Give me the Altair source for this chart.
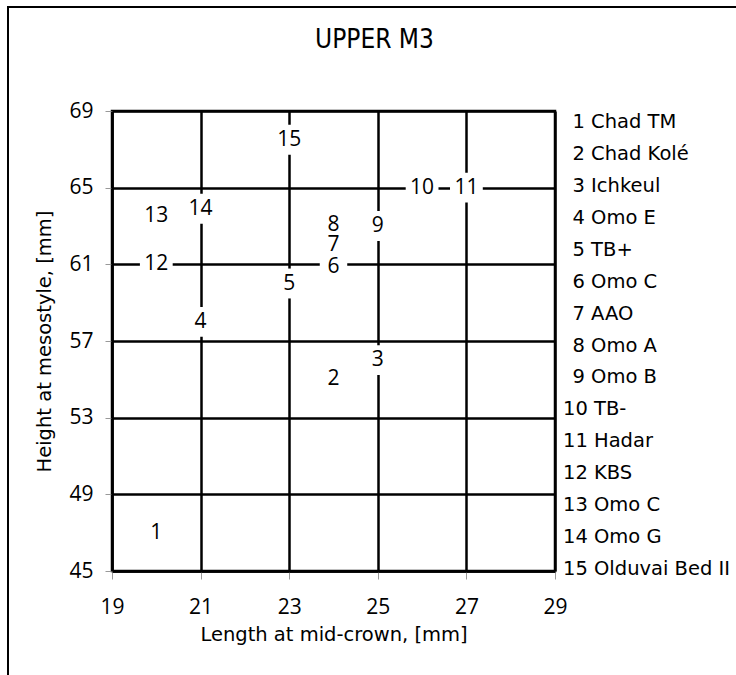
import altair as alt
import pandas as pd

# ---- data ----
site_numbers = list(range(1, 16))
length_mid_crown = [20, 24, 25, 21, 23, 24, 24, 24, 25, 26, 27, 20, 20, 21, 23]
height_mesostyle = [47, 55, 56, 58, 60, 60.85, 62, 63.05, 63, 65, 65, 61, 63.5, 63.9, 67.5]
site_names = ["Chad TM", "Chad Kolé", "Ichkeul", "Omo E", "TB+", "Omo C", "AAO",
              "Omo A", "Omo B", "TB-", "Hadar", "KBS", "Omo C", "Omo G", "Olduvai Bed II"]
x_ticks = [19, 21, 23, 25, 27, 29]
y_ticks = [45, 49, 53, 57, 61, 65, 69]

pts = pd.DataFrame({
    "num": [str(n) for n in site_numbers],
    "length": length_mid_crown,
    "height": height_mesostyle,
})
leg = pd.DataFrame({
    "row": site_numbers,
    "entry": [f"{n} {s}" for n, s in zip(site_numbers, site_names)],
})

W, H = 443, 460
x_scale = alt.Scale(domain=[19, 29], nice=False, zero=False)
y_scale = alt.Scale(domain=[45, 69], nice=False, zero=False)
x_axis = alt.Axis(values=x_ticks, title="Length at mid-crown, [mm]", format="d", labelFlush=False)
y_axis = alt.Axis(values=y_ticks, title="Height at mesostyle, [mm]", format="d", labelFlush=False)

boxes = alt.Chart(pts).transform_calculate(
    hw="length(datum.num) > 1 ? 0.37 : 0.31",
    xa="datum.length - datum.hw",
    xb="datum.length + datum.hw",
    ya="datum.height - 0.78",
    yb="datum.height + 0.78",
).mark_rect(color="white").encode(
    x=alt.X("xa:Q", scale=x_scale, axis=x_axis),
    x2="xb:Q",
    y=alt.Y("ya:Q", scale=y_scale, axis=y_axis),
    y2="yb:Q",
)

labels = alt.Chart(pts).mark_text(
    font="Open Sans", fontSize=21, color="black", align="center", baseline="middle"
).encode(
    x=alt.X("length:Q", scale=x_scale, axis=x_axis),
    y=alt.Y("height:Q", scale=y_scale, axis=y_axis),
    text="num:N",
)

main = alt.layer(boxes, labels)

leg_y = alt.Y("row:Q", scale=alt.Scale(domain=[0.655, 15.06], reverse=True, nice=False, zero=False), axis=None)
leg_single = alt.Chart(leg).transform_filter("datum.row < 10").mark_text(
    align="left", baseline="middle", font="DejaVu Sans", fontSize=19.5, color="black"
).encode(x=alt.value(460.5), y=leg_y, text="entry:N")
leg_double = alt.Chart(leg).transform_filter("datum.row >= 10").mark_text(
    align="left", baseline="middle", font="DejaVu Sans", fontSize=19.5, color="black"
).encode(x=alt.value(451), y=leg_y, text="entry:N")

frame = alt.Chart(pd.DataFrame({"a": [0]})).mark_rect(
    fillOpacity=0, stroke="black", strokeWidth=2
).encode(x=alt.value(-104), x2=alt.value(800), y=alt.value(-104), y2=alt.value(800))

chart = alt.layer(frame, main, leg_single, leg_double).resolve_scale(
    y="independent"
).properties(
    width=W,
    height=H,
    title=alt.TitleParams(
        "UPPER M3",
        font="Liberation Sans Narrow, DejaVu Sans Condensed, Roboto Condensed, sans-serif",
        fontSize=26,
        fontWeight="normal",
        color="black",
        anchor="middle",
        dx=41,
        dy=59,
        offset=12,
    ),
    padding={"left": 112, "top": 111, "right": 181, "bottom": 104},
    autosize=alt.AutoSizeParams(type="none"),
).configure_view(
    stroke="black", strokeWidth=2.5
).configure_axis(
    domainColor="black", domainWidth=2.5,
    gridColor="black", gridWidth=2.5, gridOpacity=1,
    tickColor="#999999", tickWidth=1, tickSize=8,
    labelFont="Open Sans", labelFontSize=21, labelColor="black",
    titleFont="DejaVu Sans", titleFontSize=19.5, titleFontWeight="normal", titleColor="black",
).configure_axisX(
    labelPadding=17, titlePadding=8
).configure_axisY(
    labelPadding=12, titlePadding=14, tickSize=7
)

chart.save("out.html", embed_options={"renderer": "svg", "actions": False})
